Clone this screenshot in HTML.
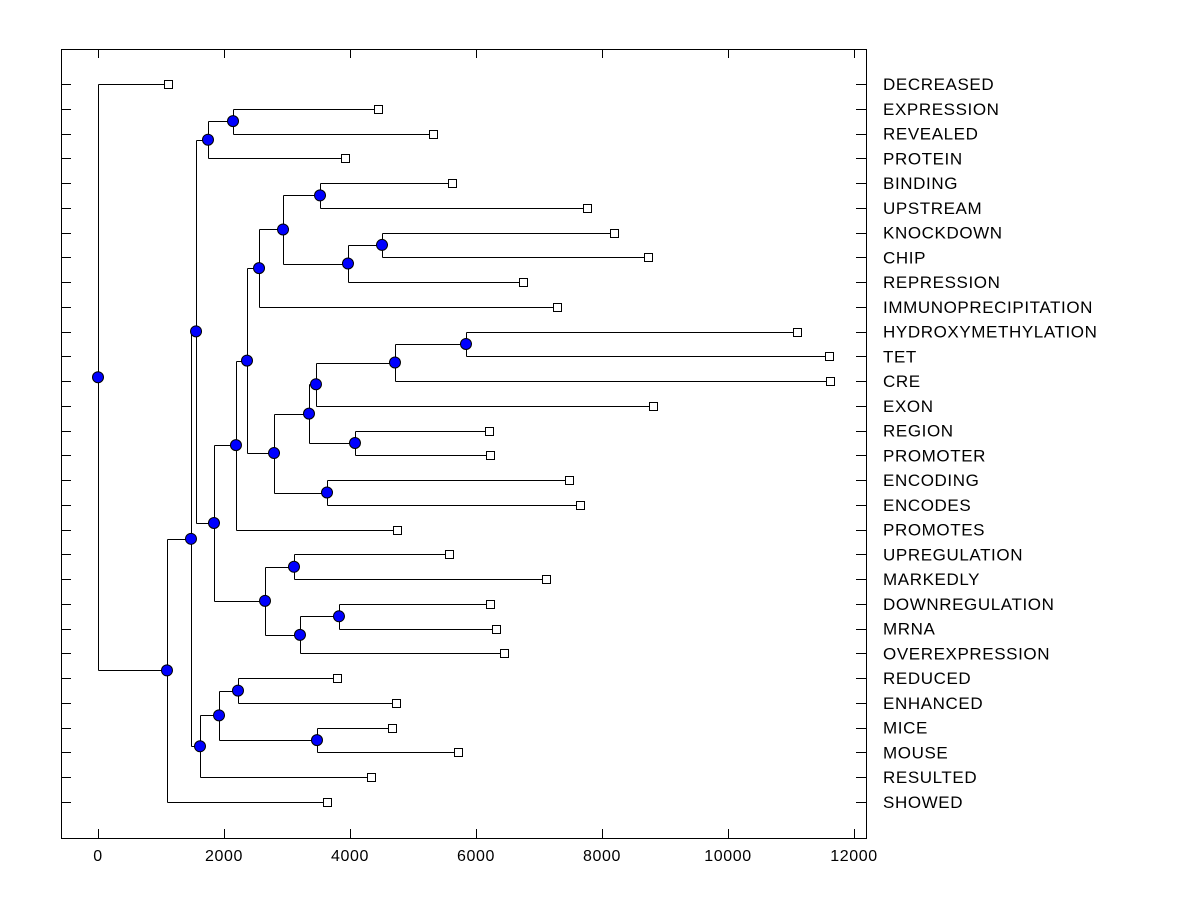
<!DOCTYPE html>
<html><head><meta charset="utf-8"><style>
html,body{margin:0;padding:0;background:#fff;}
svg{display:block;font-family:"Liberation Sans",Arial,sans-serif;}
</style></head><body>
<svg id="chart" width="1200" height="900" viewBox="0 0 1200 900"></svg>
<script>
// Leaf labels, top to bottom
const leafLabels = ["DECREASED","EXPRESSION","REVEALED","PROTEIN","BINDING","UPSTREAM","KNOCKDOWN","CHIP","REPRESSION","IMMUNOPRECIPITATION","HYDROXYMETHYLATION","TET","CRE","EXON","REGION","PROMOTER","ENCODING","ENCODES","PROMOTES","UPREGULATION","MARKEDLY","DOWNREGULATION","MRNA","OVEREXPRESSION","REDUCED","ENHANCED","MICE","MOUSE","RESULTED","SHOWED"];
// Leaf values (end of branch)
const leafValues = [1111,4444,5317,3921,5619,7762,8190,8730,6746,7286,11095,11603,11619,8809,6206,6222,7476,7651,4746,5571,7111,6222,6317,6444,3794,4730,4667,5714,4333,3635];
// Internal merges: left child, right child (leaf index "Ln" or node name), merge value
const mergeNames = ["I","P","N","O","M","K","V","U","S","T","Q","R","L","J","G","W","Y","X","H","F","E","C","AA","BB","Z","D","B","A","ROOT"];
const mergeLeft  = ["L1","L6","L4","P","N","M","L10","V","U","L14","S","L16","Q","K","J","L19","L21","Y","W","G","I","E","L24","L26","AA","Z","C","B","L0"];
const mergeRight = ["L2","L7","L5","L8","O","L9","L11","L12","L13","L15","T","L17","R","L","L18","L20","L22","L23","X","H","L3","F","L25","L27","BB","L28","D","L29","A"];
const mergeValues = [2143,4508,3524,3968,2937,2556,5841,4714,3460,4079,3349,3635,2794,2365,2190,3111,3825,3206,2651,1841,1746,1556,2222,3476,1921,1619,1476,1095,0];
const xTicks = [0,2000,4000,6000,8000,10000,12000];

const svg = document.getElementById('chart');
const NS = 'http://www.w3.org/2000/svg';
const PL=61, PR=866, PT=49, PB=838;
function xs(v){ return 98 + v*(756/12000); }
function ys(i){ return 84 + i*(718/29); }
function mk(tag, attrs){ const e=document.createElementNS(NS,tag); for(const k in attrs) e.setAttribute(k,attrs[k]); svg.appendChild(e); return e; }

const frame = mk('rect',{x:PL+0.5,y:PT+0.5,width:PR-PL,height:PB-PT,fill:'none',stroke:'#000','stroke-width':1});



xTicks.forEach(t=>{
  const x=Math.round(xs(t))+0.5;
  const a=mk('line',{x1:x,y1:PB,x2:x,y2:PB-9,stroke:'#000'});
  
  
  const b=mk('line',{x1:x,y1:PT,x2:x,y2:PT+9,stroke:'#000'});
  
  
  const tx=mk('text',{x:xs(t),y:861,'text-anchor':'middle','font-size':16,'letter-spacing':0.6,fill:'#000'});
  tx.textContent=t;
  
  
});

leafLabels.forEach((l,i)=>{
  const y=Math.round(ys(i))+0.5;
  const a=mk('line',{x1:PL,y1:y,x2:PL+10,y2:y,stroke:'#000'});
  
  
  const b=mk('line',{x1:PR-10,y1:y,x2:PR,y2:y,stroke:'#000'});
  
  
  const tx=mk('text',{x:883,y:ys(i)+6,'font-size':17,'letter-spacing':0.6,fill:'#000'});
  tx.textContent=l;
  
  
});

// compute node positions
const pos={};
leafValues.forEach((v,i)=>{ pos['L'+i]={x:xs(v),y:ys(i),leaf:true}; });
const lines=[], circles=[];
mergeNames.forEach((n,k)=>{
  const a=pos[mergeLeft[k]], b=pos[mergeRight[k]];
  const x=xs(mergeValues[k]), y=(a.y+b.y)/2;
  pos[n]={x:x,y:y,leaf:false};
  lines.push([x,a.y,x,b.y]);
  lines.push([x,a.y,a.x,a.y]);
  lines.push([x,b.y,b.x,b.y]);
  circles.push([x,y]);
});
lines.forEach(l=>{
  const r=v=>Math.round(v)+0.5;
  const e=mk('line',{x1:r(l[0]),y1:r(l[1]),x2:r(l[2]),y2:r(l[3]),stroke:'#000','stroke-width':1});
  
  
});
leafValues.forEach((v,i)=>{
  const e=mk('rect',{x:Math.round(xs(v))-4+0.5,y:Math.round(ys(i))-4+0.5,width:8,height:8,fill:'#fff',stroke:'#000'});
  
  
});
circles.forEach(c=>{
  const e=mk('circle',{cx:c[0],cy:c[1],r:5.5,fill:'#0000ff',stroke:'#000','stroke-width':1});
  
  
});
</script>
</body></html>
